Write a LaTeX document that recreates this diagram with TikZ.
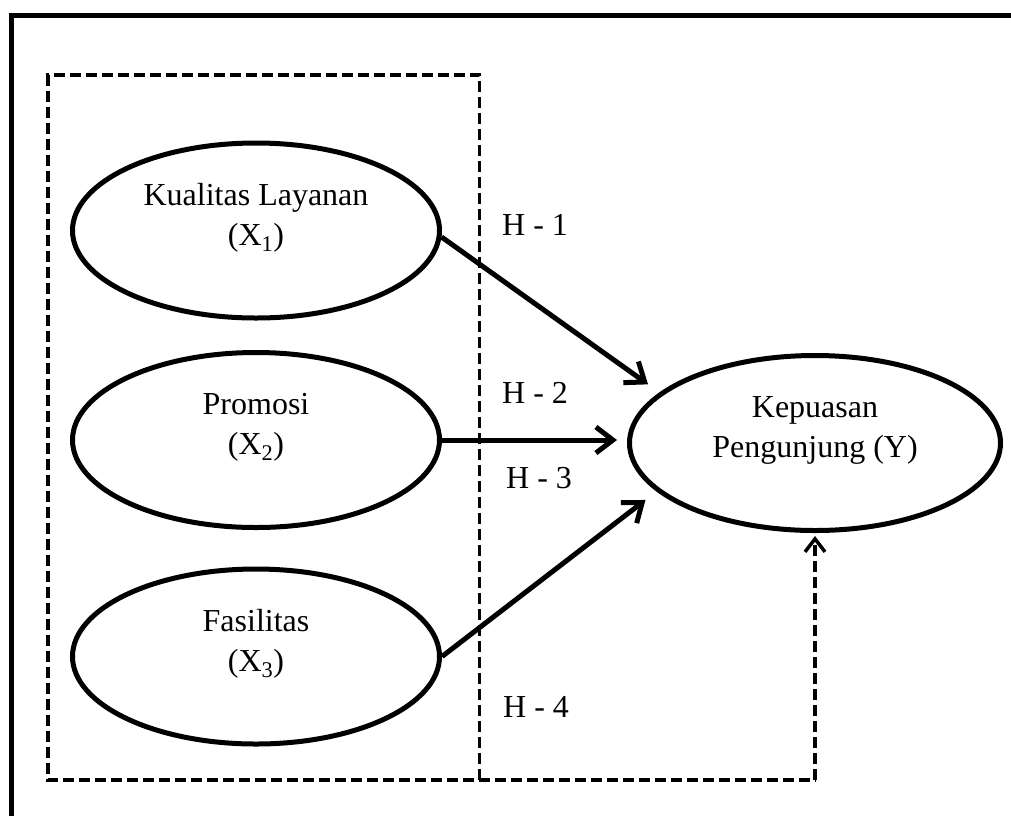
\documentclass[tikz,border=0pt]{standalone}
\usepackage{fontspec}
\setmainfont{Liberation Serif}
\usetikzlibrary{shapes.geometric,arrows.meta}
\begin{document}
\begin{tikzpicture}[x=1pt,y=-1pt,
 ell/.style={ellipse,draw,line width=5pt,minimum width=367pt,minimum height=175pt,inner sep=0pt},
 lbl/.style={align=center,font=\fontsize{32}{40}\selectfont,inner sep=0pt},
 hyp/.style={font=\fontsize{32}{40}\selectfont,inner sep=0pt,anchor=base west},
 arr/.style={line width=5pt,-{Straight Barb[length=17pt,width=26pt]}},
 dasharr/.style={line width=3.5pt,dash pattern=on 11pt off 5pt,-{Straight Barb[length=13pt,width=20pt]}},
 dashbox/.style={line width=3.5pt,dash pattern=on 11pt off 5pt,line join=miter},
 frame/.style={line width=5pt,line join=miter}]
\useasboundingbox (0,0) rectangle (1011,815);
% outer frame (top and left edges)
\draw[frame] (11.5,830) -- (11.5,15.3) -- (1030,15.3);
% dashed grouping box
\draw[dashbox] (479.5,780) -- (479.5,75) -- (48,75) -- (48,780) -- (815,780) coordinate (h4);
% ellipses
\node[ell] (X1) at (256,230.5) {};
\node[ell] (X2) at (256,440) {};
\node[ell] (X3) at (256,656.5) {};
\node[ell,minimum width=371pt] (Y) at (815,443) {};
% texts
\node[lbl] (X1t) at ([yshift=13pt]X1.center) {Kualitas Layanan\\(X\textsubscript{1})};
\node[lbl] (X2t) at ([yshift=13pt]X2.center) {Promosi\\(X\textsubscript{2})};
\node[lbl] (X3t) at ([yshift=13pt]X3.center) {Fasilitas\\(X\textsubscript{3})};
\node[lbl] (Yt) at ([yshift=12.5pt]Y.center) {Kepuasan\\Pengunjung (Y)};
% connectors
\draw[arr,shorten >=14pt] (X1.-2) -- (Y.162);
\draw[arr,shorten >=10pt] (X2.east) -- (X2.east -| Y.west);
\draw[arr,shorten >=14pt] (X3.east) -- (Y.197);
\draw[dasharr,shorten >=3pt] (h4) -- (Y.south);
% hypothesis labels
\node[hyp] (H1) at (502,235) {H - 1};
\node[hyp] (H2) at (502,403) {H - 2};
\node[hyp] (H3) at (506,488) {H - 3};
\node[hyp] (H4) at (503,717) {H - 4};
\end{tikzpicture}
\end{document}
